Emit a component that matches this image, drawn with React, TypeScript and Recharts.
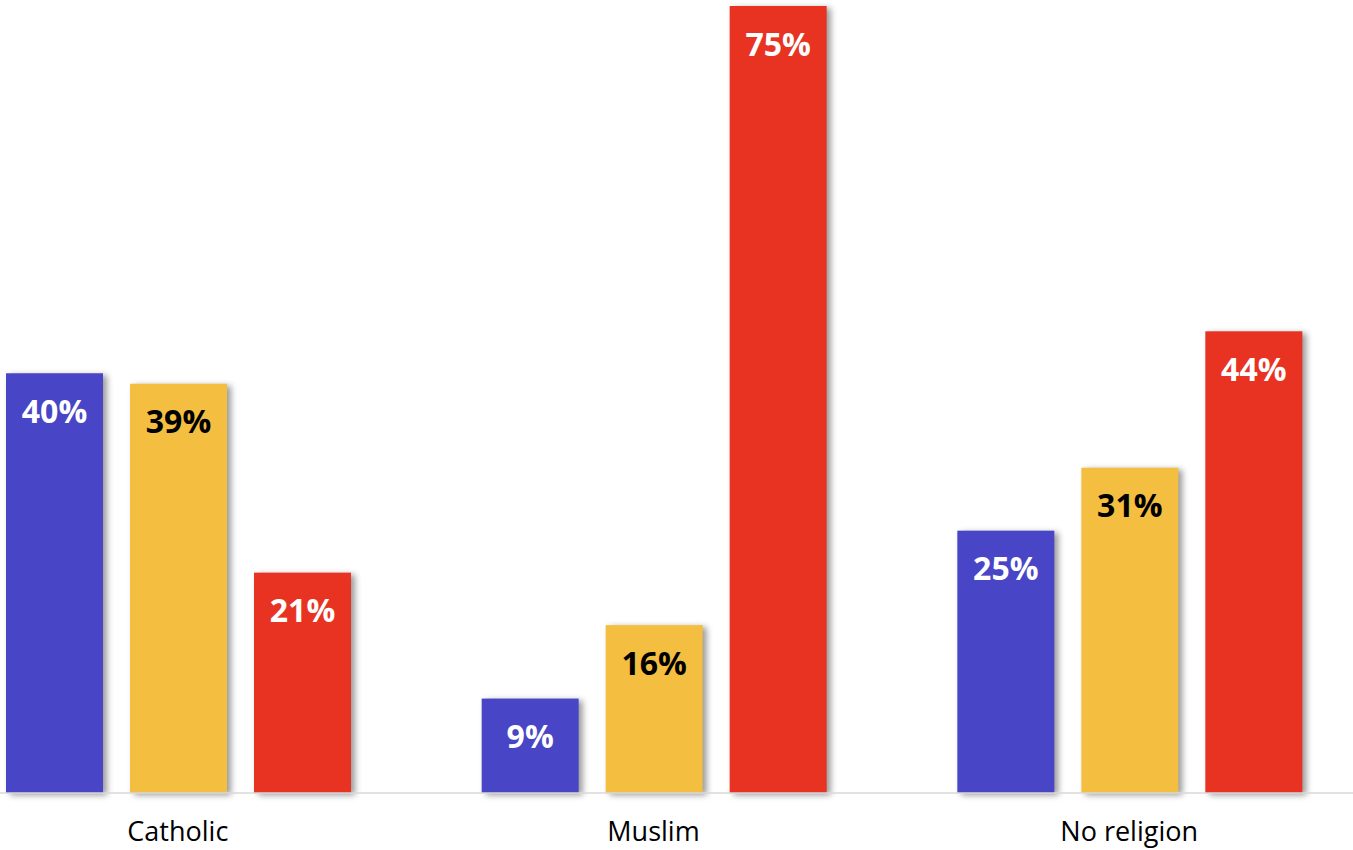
import React from 'react';
import { BarChart, Bar, XAxis, YAxis, LabelList } from 'recharts';

const categories = ['Catholic', 'Muslim', 'No religion'];
const seriesBlue = [40, 9, 25];
const seriesYellow = [39, 16, 31];
const seriesRed = [21, 75, 44];

const data = categories.map((c, i) => ({
  name: c,
  blue: seriesBlue[i],
  yellow: seriesYellow[i],
  red: seriesRed[i],
}));

const FONT = '"Open Sans", "Noto Sans", sans-serif';

const ShadowBar = (props: any) => {
  const { x, y, width, height, fill } = props;
  if (height <= 0) return null;
  return (
    <rect
      x={x}
      y={y}
      width={width}
      height={height}
      fill={fill}
      style={{ filter: 'drop-shadow(4px 2px 3px rgba(0,0,0,0.4))' }}
    />
  );
};

const fmt = (v: any) => `${v}%`;

export default function App() {
  return (
    <div style={{ position: 'absolute', left: -60, top: 0, width: 1427, height: 850 }}>
      <BarChart
        width={1427}
        height={850}
        data={data}
        margin={{ top: 6, right: 0, bottom: 0, left: 0 }}
        barCategoryGap={66}
        barGap={27}
      >
        <XAxis
          dataKey="name"
          height={57}
          axisLine={{ stroke: '#d9d9d9', strokeWidth: 1.5 }}
          tickLine={false}
          tickSize={0}
          tickMargin={29}
          tick={{ fill: '#000', fontSize: 27, fontFamily: FONT }}
        />
        <YAxis hide domain={[0, 75]} />
        <Bar dataKey="blue" fill="#4845C6" isAnimationActive={false} shape={ShadowBar}>
          <LabelList dataKey="blue" position="insideTop" offset={27} formatter={fmt}
            fill="#ffffff" style={{ fontSize: 32, fontWeight: 700, fontFamily: FONT }} />
        </Bar>
        <Bar dataKey="yellow" fill="#F4BE41" isAnimationActive={false} shape={ShadowBar}>
          <LabelList dataKey="yellow" position="insideTop" offset={27} formatter={fmt}
            fill="#000000" style={{ fontSize: 32, fontWeight: 700, fontFamily: FONT }} />
        </Bar>
        <Bar dataKey="red" fill="#E83322" isAnimationActive={false} shape={ShadowBar}>
          <LabelList dataKey="red" position="insideTop" offset={27} formatter={fmt}
            fill="#ffffff" style={{ fontSize: 32, fontWeight: 700, fontFamily: FONT }} />
        </Bar>
      </BarChart>
    </div>
  );
}
